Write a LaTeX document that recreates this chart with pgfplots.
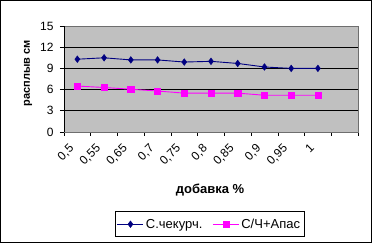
\documentclass[border=0pt]{standalone}
\usepackage{fontspec}
\setmainfont{Liberation Sans}
\usepackage{pgfplots}
\pgfplotsset{compat=1.18}
\definecolor{plotgray}{RGB}{192,192,192}
\definecolor{navyb}{RGB}{0,0,128}
\definecolor{magp}{RGB}{255,0,255}
\begin{document}
\begin{tikzpicture}[font=\fontsize{13}{15}\selectfont]
\draw[line width=1pt, fill=white] (-63.5pt,-110.5pt) rectangle (307.5pt,131.5pt);
\begin{axis}[
  at={(0,0)}, anchor=south west,
  scale only axis, width=294pt, height=106pt,
  xmin=-0.5, xmax=10.5, ymin=0, ymax=15,
  /pgf/number format/assume math mode=true,
  axis background/.style={fill=plotgray},
  axis line style={draw={rgb,255:red,110;green,110;blue,110}, line width=0.8pt},
  ytick={0,3,...,15},
  ymajorgrids, grid style={black, line width=0.8pt},
  xtick={-0.5,0.5,...,10.5}, xticklabels={},
  extra x ticks={0,1,2,3,4,5,6,7,8,9},
  extra x tick labels={\mbox{0,5},\mbox{0,55},\mbox{0,65},\mbox{0,7},\mbox{0,75},\mbox{0,8},\mbox{0,85},\mbox{0,9},\mbox{0,95},\mbox{1}},
  extra x tick style={major tick length=0pt, grid=none},
  xtick pos=bottom, ytick pos=left,
  tick align=outside, major tick length=4pt,
  tick style={black, line width=0.6pt},
  tick label style={font=\fontsize{12}{14}\selectfont},
  x tick label style={xshift=-9pt, yshift=-11pt, rotate=45, anchor=north east, inner sep=0pt},
  y tick label style={xshift=-3pt},
  ylabel={\textbf{расплыв см}},
  ylabel style={at={(axis description cs:-0.122,0.552)}, anchor=center, font=\fontsize{11}{13}\selectfont},
  xlabel={\textbf{добавка \%}},
  xlabel style={at={(axis description cs:0.497,-0.547)}, anchor=center},
  legend style={at={(axis description cs:0.495,-0.87)}, anchor=center,
    legend columns=2, draw=black, line width=0.8pt, fill=white,
    inner xsep=2pt, inner ysep=5pt, /tikz/every even column/.append style={column sep=8pt}},
  legend cell align=left,
  legend image code/.code={\draw[mark repeat=2,mark phase=2] plot coordinates {(0pt,0pt)(13pt,0pt)(26pt,0pt)};},
]
\addplot[navyb, line width=0.9pt, mark=diamond*, mark size=3.3pt, mark options={fill=navyb, line width=0.5pt}]
  coordinates {(0,10.3)(1,10.5)(2,10.2)(3,10.2)(4,9.9)(5,10.0)(6,9.7)(7,9.2)(8,9.0)(9,9.0)};
\addlegendentry{С.чекурч.}
\addplot[magp, line width=0.9pt, mark=square*, mark size=3.1pt, mark options={fill=magp, line width=0.5pt}]
  coordinates {(0,6.5)(1,6.3)(2,6.05)(3,5.8)(4,5.5)(5,5.5)(6,5.5)(7,5.2)(8,5.2)(9,5.2)};
\addlegendentry{С/Ч+Апас}
\draw[black, line width=0.8pt] (rel axis cs:0,0) -- (rel axis cs:0,1);
\draw[black, line width=0.8pt] (rel axis cs:0,0) -- (rel axis cs:1,0);
\end{axis}
\end{tikzpicture}
\end{document}
